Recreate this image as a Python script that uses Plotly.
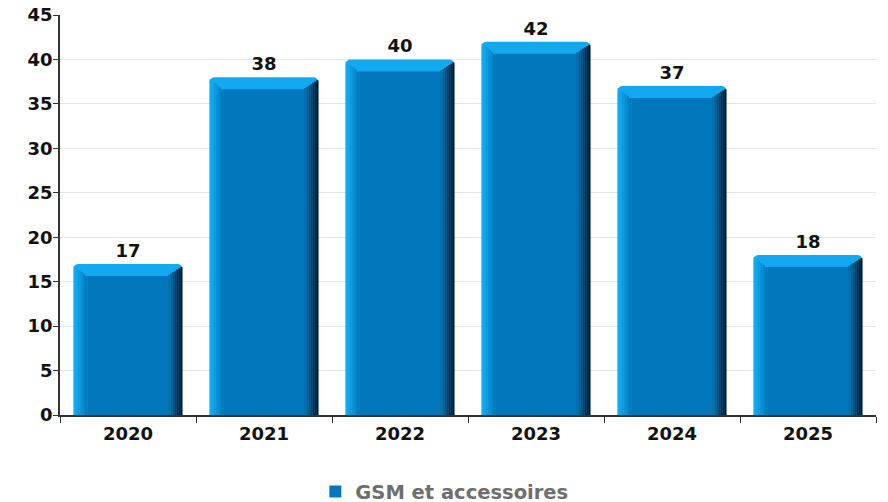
import plotly.graph_objects as go

years = ["2020", "2021", "2022", "2023", "2024", "2025"]
values = [17, 38, 40, 42, 37, 18]
series_name = "GSM et accessoires"
y_ticks = [0, 5, 10, 15, 20, 25, 30, 35, 40, 45]

FONT = "DejaVu Sans"
LIGHT = "#12A9F0"
FACE = "#0377BC"
HALF = 0.40   # half bar width (category units)
BEVEL = 1.35  # top bevel depth (value units)

fig = go.Figure()

# base bar (light cap / outline) with data labels
fig.add_trace(go.Bar(
    x=years, y=values, width=2 * HALF, offset=-HALF,
    marker=dict(color=LIGHT, line=dict(width=0), cornerradius=5),
    text=[str(v) for v in values], textposition="outside",
    textfont=dict(family=FONT, size=18, color="#111", weight="bold"),
    cliponaxis=False, showlegend=False, hoverinfo="skip",
))

# left gradient strips (light edge -> face)
left_cols = ["#13ABF2", "#10A3EA", "#0C99DF", "#098ED3", "#0684C8", "#047BC0"]
lw = 0.1 / len(left_cols)
for i, c in enumerate(left_cols):
    t = (i + 1) / len(left_cols)
    fig.add_trace(go.Bar(
        x=years, y=[v - BEVEL * t for v in values], width=lw,
        offset=-HALF + i * lw,
        marker=dict(color=c, line=dict(width=0)),
        showlegend=False, hoverinfo="skip",
    ))

# main face
fig.add_trace(go.Bar(
    x=years, y=[v - BEVEL for v in values], width=2 * HALF - 0.2,
    offset=-HALF + 0.1, name=series_name,
    marker=dict(color=FACE, line=dict(width=0)),
    showlegend=True, hovertemplate="%{x}: %{customdata}<extra></extra>",
    customdata=values,
))

# right gradient strips (face -> black)
right_cols = ["#036FAF", "#02639C", "#025484", "#01436A", "#01304C", "#001C2E", "#000B14"]
rw = 0.105 / len(right_cols)
for i, c in enumerate(right_cols):
    t = (i + 1) / len(right_cols)
    fig.add_trace(go.Bar(
        x=years, y=[v - BEVEL + (BEVEL - 0.35) * t for v in values], width=rw,
        offset=HALF - 0.105 + i * rw,
        marker=dict(color=c, line=dict(width=0)),
        showlegend=False, hoverinfo="skip",
    ))

fig.update_layout(
    width=880, height=494,
    margin=dict(l=52, r=12, t=7, b=87, autoexpand=False),
    barmode="overlay",
    plot_bgcolor="white", paper_bgcolor="white",
    font=dict(family=FONT, color="#111"),
    xaxis=dict(
        type="category", range=[-0.5, 5.5], automargin=False,
        showline=True, linecolor="#333", linewidth=1.5,
        ticks="outside", tickson="boundaries", ticklen=6, tickcolor="#333",
        tickfont=dict(family=FONT, size=18, color="#111", weight="bold"),
        ticklabelstandoff=2,
        showgrid=False,
    ),
    yaxis=dict(
        range=[0, 45], tickvals=y_ticks, automargin=False,
        showline=True, linecolor="#333", linewidth=1.5,
        ticks="outside", ticklen=5, tickcolor="#333",
        tickfont=dict(family=FONT, size=18, color="#111", weight="bold"),
        ticklabeloverflow="allow", ticklabelstandoff=-3,
        showgrid=True, gridcolor="#E6E6E6", gridwidth=1,
        zeroline=False,
    ),
    legend=dict(
        orientation="h", x=0.471, xanchor="center", y=-0.143, yanchor="top",
        font=dict(family=FONT, size=19.5, color="#6E6E6E", weight="bold"),
        itemwidth=30,
    ),
)

fig.write_html("out.html")
